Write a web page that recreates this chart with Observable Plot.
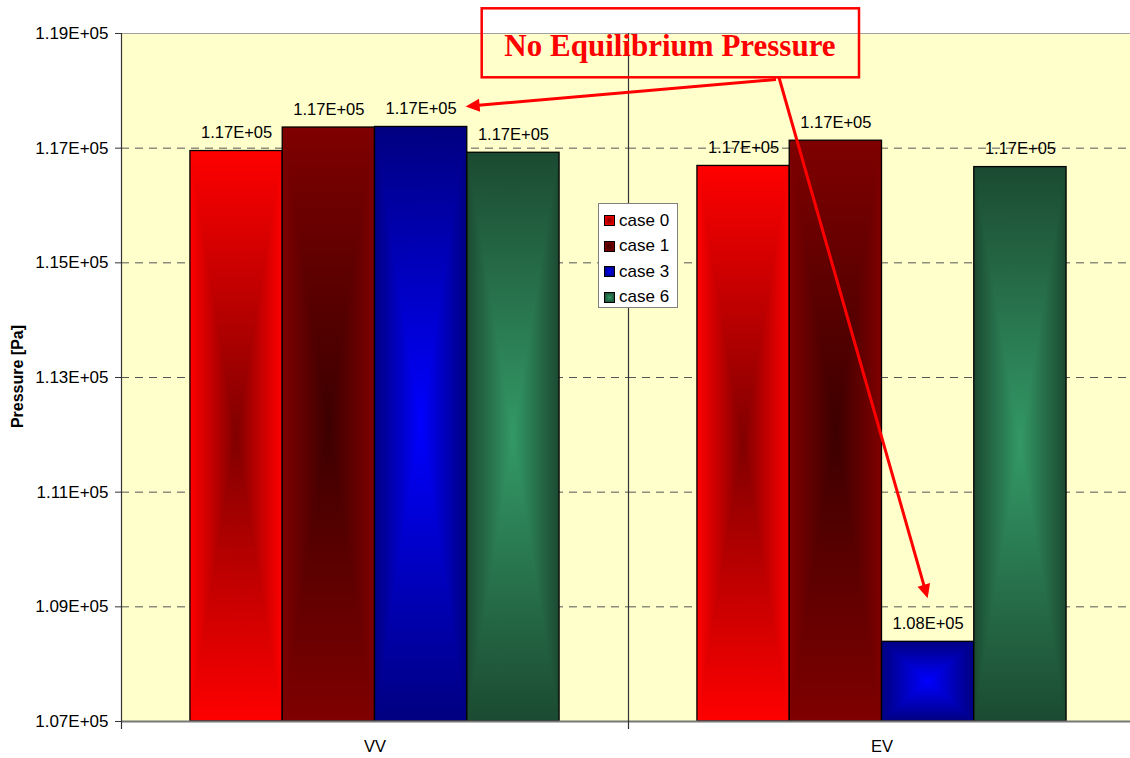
<!DOCTYPE html>
<html>
<head>
<meta charset="utf-8">
<script src="https://cdn.jsdelivr.net/npm/d3@7"></script>
<script src="https://cdn.jsdelivr.net/npm/@observablehq/plot@0.6"></script>
<style>
  html, body { margin: 0; padding: 0; background: #fff; overflow: hidden; }
  #wrap { position: relative; width: 1130px; height: 758px; font-family: "Liberation Sans", Arial, sans-serif; }
  #legend { position: absolute; left: 598px; top: 203px; width: 80px; height: 105px; box-sizing: border-box;
            background: #fff; border: 1px solid #808080; padding: 4px 0 0 5px; }
  #legend .row { display: flex; align-items: center; height: 25.5px; font-size: 17px; color: #000; }
  #legend svg { margin-right: 4px; }
</style>
</head>
<body>
<svg id="defs" width="0" height="0" style="position:absolute"></svg>
<div id="wrap"></div>
<script>
// ---- data ----
const categories = ["VV", "EV"];
const series = ["case 0", "case 1", "case 3", "case 6"];
const case0 = [116950, 116690];
const case1 = [117360, 117130];
const case3 = [117370, 108390];
const case6 = [116920, 116670];
const yTicks = [107000, 109000, 111000, 113000, 115000, 117000, 119000];
const annotationText = "No Equilibrium Pressure";
const yTitle = "Pressure [Pa]";

// ---- palette (edge / centre of the "from centre" gradient) ----
const edgeColors = ["#ff0000", "#7f0000", "#000080", "#1b4a31"];
const centerColors = ["#800000", "#3c0000", "#0000ff", "#339966"];

const seriesValues = [case0, case1, case3, case6];
const rows = [];
categories.forEach((c, i) => {
  seriesValues.forEach((vals, j) => rows.push({category: c, series: series[j], value: vals[i]}));
});

const fmt = v => {
  const [m, e] = v.toExponential(2).split("e");
  const n = +e;
  return m + "E" + (n < 0 ? "-" : "+") + String(Math.abs(n)).padStart(2, "0");
};

// ---- gradient patterns ----
const defsSvg = document.getElementById("defs");
let defsHtml = "<defs>";
series.forEach((s, i) => {
  const e = edgeColors[i], c = centerColors[i];
  defsHtml += `
  <linearGradient id="h${i}" x1="0" y1="0" x2="1" y2="0">
    <stop offset="0" stop-color="${e}"/><stop offset="0.5" stop-color="${c}"/><stop offset="1" stop-color="${e}"/>
  </linearGradient>
  <linearGradient id="v${i}" x1="0" y1="0" x2="0" y2="1">
    <stop offset="0" stop-color="${e}"/><stop offset="0.5" stop-color="${c}"/><stop offset="1" stop-color="${e}"/>
  </linearGradient>
  <pattern id="fill${i}" patternUnits="objectBoundingBox" patternContentUnits="objectBoundingBox" x="0" y="0" width="1" height="1">
    <rect x="0" y="0" width="1" height="1" fill="url(#h${i})"/>
    <path d="M0,0L1,0L0.5,0.5Z M0,1L1,1L0.5,0.5Z" fill="url(#v${i})"/>
  </pattern>`;
});
defsHtml += "</defs>";
defsSvg.innerHTML = defsHtml;

// ---- chart ----
const chart = Plot.plot({
  width: 1130,
  height: 758,
  marginTop: 33,
  marginBottom: 37,
  marginLeft: 121,
  marginRight: -5,
  style: {fontFamily: '"Liberation Sans", Arial, sans-serif', fontSize: "16.5px", color: "#000", background: "transparent"},
  fx: {domain: categories, padding: 0, round: false, label: null},
  x: {domain: series, paddingInner: 0, paddingOuter: 0.747, round: false, axis: null},
  y: {domain: [yTicks[0], yTicks[yTicks.length - 1]], axis: null},
  color: {type: "ordinal", domain: series, range: series.map((_, i) => `url(#fill${i})`)},
  marks: [
    Plot.frame({fill: "#ffffcc", stroke: "none"}),
    Plot.ruleY(yTicks.slice(1, -1), {stroke: "#555", strokeDasharray: "8,6"}),
    Plot.ruleY([yTicks[yTicks.length - 1]], {stroke: "#a0a0a0", strokeWidth: 1.2}),
    Plot.barY(rows, {fx: "category", x: "series", y1: yTicks[0], y2: "value", fill: "series", stroke: "#000", strokeWidth: 1.3}),
    Plot.ruleY([yTicks[0]], {stroke: "#777", strokeWidth: 1.8}),
    Plot.frame({anchor: "left", stroke: "#333", strokeWidth: 1.2, insetBottom: -7}),
    Plot.text(rows, {fx: "category", x: "series", y: "value", text: d => fmt(d.value), dy: -18, fontSize: 16.5, fill: "#000"}),
    Plot.axisY(yTicks, {tickFormat: fmt, tickSize: 6, tickPadding: 7, fontSize: 17, label: null, stroke: "#333"}),
    Plot.axisFx({anchor: "bottom", tickSize: 0, tickPadding: 19, fontSize: 16.5, label: null})
  ]
});

document.getElementById("wrap").appendChild(chart);

// ---- overlay: y title, annotation box and arrows (anchored to the data via the scales) ----
const fxS = chart.scale("fx"), xS = chart.scale("x"), yS = chart.scale("y");
const barLeft = (cat, s) => fxS.apply(cat) + xS.apply(s) - xS.range[0];
const bw = xS.bandwidth;

const svg = d3.select(chart);
svg.append("text")
  .attr("transform", "translate(23,376.5) rotate(-90)")
  .attr("text-anchor", "middle")
  .attr("font-family", '"Liberation Sans", Arial, sans-serif')
  .attr("font-weight", "bold")
  .attr("font-size", 16)
  .attr("fill", "#000")
  .text(yTitle);

const ann = svg.append("g");
ann.append("rect")
  .attr("x", 481.7).attr("y", 8.3).attr("width", 377.3).attr("height", 69)
  .attr("fill", "none").attr("stroke", "#ff0000").attr("stroke-width", 2.5);
ann.append("text")
  .attr("x", 670).attr("y", 55.5)
  .attr("text-anchor", "middle")
  .attr("font-family", '"Liberation Serif", "Times New Roman", serif')
  .attr("font-weight", "bold")
  .attr("font-size", 31)
  .attr("fill", "#ff0000")
  .text(annotationText);

function arrow(x1, y1, x2, y2) {
  const dx = x2 - x1, dy = y2 - y1, L = Math.hypot(dx, dy);
  const ux = dx / L, uy = dy / L, head = 14, half = 6.5;
  const bx = x2 - ux * head, by = y2 - uy * head;
  ann.append("line").attr("x1", x1).attr("y1", y1).attr("x2", bx + ux).attr("y2", by + uy)
    .attr("stroke", "#ff0000").attr("stroke-width", 3);
  ann.append("polygon")
    .attr("points", `${x2},${y2} ${bx - uy * half},${by + ux * half} ${bx + uy * half},${by - ux * half}`)
    .attr("fill", "#ff0000");
}
// arrow to the VV / case 3 value label, and to the EV / case 3 bar
const vv3 = rows.find(r => r.category === "VV" && r.series === "case 3");
const ev3 = rows.find(r => r.category === "EV" && r.series === "case 3");
arrow(776, 79.5, barLeft("VV", "case 3") + bw / 2 + 45, yS.apply(vv3.value) - 20);
arrow(779, 77.5, barLeft("EV", "case 3") + bw / 2, yS.apply(ev3.value) - 43);

// ---- legend ----
const legend = document.createElement("div");
legend.id = "legend";
series.forEach((s, i) => {
  const row = document.createElement("div");
  row.className = "row";
  row.innerHTML = `<svg width="11" height="11"><rect x="0.5" y="0.5" width="10" height="10" fill="url(#fill${i})" stroke="#000" stroke-width="1"/></svg><span>${s}</span>`;
  legend.appendChild(row);
});
document.getElementById("wrap").appendChild(legend);
</script>
</body>
</html>
